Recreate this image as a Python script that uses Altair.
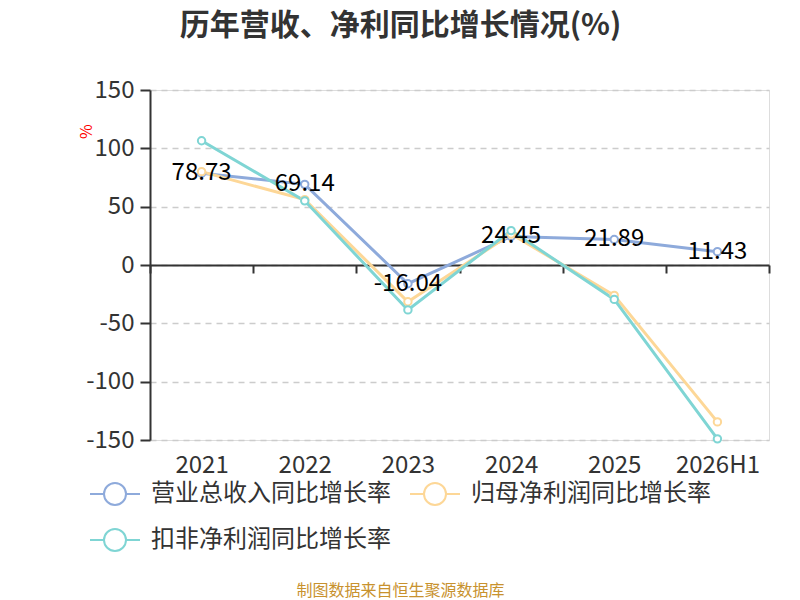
import altair as alt
import pandas as pd

years = ["2021", "2022", "2023", "2024", "2025", "2026H1"]
revenue_growth = [78.73, 69.14, -16.04, 24.45, 21.89, 11.43]
parent_profit_growth = [80.0, 56.0, -31.5, 26.5, -26.0, -134.5]
deducted_profit_growth = [106.5, 55.0, -38.5, 29.5, -29.5, -149.0]

series_names = ["营业总收入同比增长率", "归母净利润同比增长率", "扣非净利润同比增长率"]
series_colors = ["#8eaadb", "#fdd797", "#7fd5d4"]
y_ticks = [-150, -100, -50, 0, 50, 100, 150]

FONT = "Noto Sans CJK SC"
W, H = 619, 350

rows = []
for k, (name, vals) in enumerate(zip(series_names, [revenue_growth, parent_profit_growth, deducted_profit_growth])):
    for yr, v in zip(years, vals):
        rows.append({"year": yr, "series": name, "value": v, "k": k})
df = pd.DataFrame(rows)

# legend symbol: short line with a hollow circle in the middle
legend_path = "M-1,0L-0.44,0M0.44,0L1,0M-0.44,0A0.44,0.44,0,1,1,0.44,0A0.44,0.44,0,1,1,-0.44,0"

x_enc = alt.X(
    "year:N", sort=years,
    scale=alt.Scale(type="band", paddingInner=0, paddingOuter=0),
    axis=alt.Axis(
        title="制图数据来自恒生聚源数据库", titleFont=FONT, titleFontSize=16,
        titleFontWeight="normal", titleColor="#c8922e",
        titleX=250, titleY=325, titleAlign="center", titleBaseline="middle",
        offset=-H / 2, tickBand="extent", tickSize=8, tickWidth=2, tickColor="#333",
        domainColor="#333", domainWidth=2, labelPadding=180, labelAngle=0,
        labelFont=FONT, labelFontSize=24, labelColor="#333", grid=False,
    ),
)
y_enc = alt.Y(
    "value:Q",
    scale=alt.Scale(domain=[-150, 150], nice=False, zero=False),
    axis=alt.Axis(
        values=y_ticks, labelExpr="toString(datum.value)",
        title="%", titleColor="red", titleFont=FONT,
        titleFontSize=16, titleFontWeight="normal", titleX=-64, titleY=41,
        titleAlign="center", titleBaseline="middle",
        labelFont=FONT, labelFontSize=24, labelColor="#333", labelPadding=6,
        tickSize=10, tickWidth=2, tickColor="#333",
        domainColor="#333", domainWidth=2,
        gridDash=[6, 5], gridColor="#cccccc", gridWidth=1.5,
    ),
)
color_enc = alt.Color(
    "series:N", sort=series_names,
    scale=alt.Scale(domain=series_names, range=series_colors),
    legend=alt.Legend(
        orient="none", legendX=-61, legendY=378, columns=2, direction="horizontal",
        title=None, symbolType=legend_path, symbolSize=2500, symbolStrokeWidth=2,
        symbolFillColor="white", labelFont=FONT, labelFontSize=24, labelLimit=0,
        labelColor="#333", labelOffset=10, columnPadding=15, rowPadding=5,
    ),
)

base = alt.Chart(df)

lines = base.mark_line(strokeWidth=3).encode(
    x=x_enc, y=y_enc, color=color_enc, order="k:O"
)
points = base.mark_point(filled=False, fill="white", size=55, strokeWidth=2, opacity=1).encode(
    x=x_enc, y=y_enc, color=color_enc
)
labels = base.transform_filter(alt.datum.k == 0).transform_calculate(
    label="replace(format(datum.value, '.2f'), '\u2212', '-')"
).mark_text(
    font=FONT, fontSize=24, color="black", align="center", baseline="middle"
).encode(x=x_enc, y=y_enc, text="label:N")

chart = alt.layer(lines, points, labels).properties(
    width=W, height=H,
    autosize=alt.AutoSizeParams(type="none"),
    padding={"left": 142, "top": 82, "right": 23, "bottom": 160},
    title=alt.TitleParams(
        text="历年营收、净利同比增长情况(%)", font=FONT, fontSize=30,
        fontWeight="bold", color="#333", anchor="middle", dx=-59, offset=37,
    ),
).configure_view(stroke=None).configure(background="white")

chart.save("out.html", embed_options={"renderer": "svg", "actions": False})
